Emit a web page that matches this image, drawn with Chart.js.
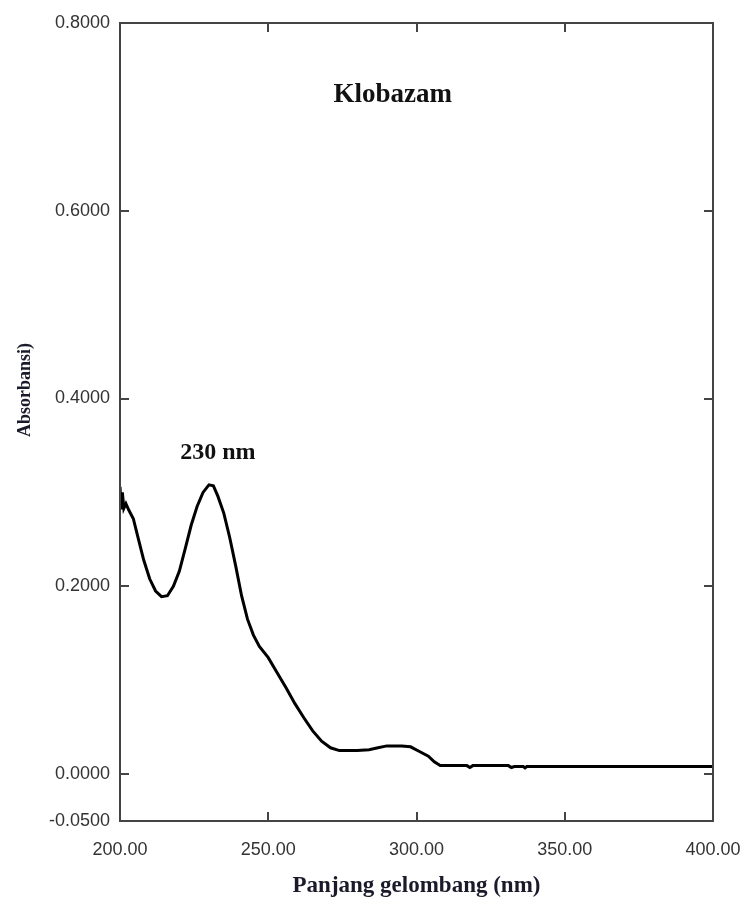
<!DOCTYPE html>
<html>
<head>
<meta charset="utf-8">
<script src="https://cdn.jsdelivr.net/npm/chart.js@4/dist/chart.umd.min.js"></script>
<style>
  html, body { margin: 0; padding: 0; background: #fff; }
  #wrap { width: 742px; height: 902px; }
</style>
</head>
<body>
<div id="wrap"><canvas id="spektrum" width="742" height="902"></canvas></div>
<script>
// spektrum UV klobazam
const panjangGelombang = [
  200.0, 200.4, 200.8, 201.3, 202.0, 203.0, 204.5, 206.0, 208.0, 210.0,
  212.0, 214.0, 216.0, 218.0, 220.0, 222.0, 224.0, 226.0, 228.0, 230.0,
  231.5, 233.0, 235.0, 237.0, 239.0, 241.0, 243.0, 245.0, 247.0, 250.0,
  253.0, 256.0, 259.0, 262.0, 265.0, 268.0, 271.0, 274.0, 280.0, 284.0,
  287.0, 290.0, 295.0, 298.0, 301.0, 304.0, 306.0, 308.0, 317.0, 318.0,
  319.0, 331.0, 332.0, 333.0, 336.0, 336.6, 337.2, 340.0, 400.0
];
const absorbansi = [
  0.306, 0.282, 0.300, 0.283, 0.288, 0.281, 0.272, 0.253, 0.228, 0.208,
  0.195, 0.189, 0.190, 0.200, 0.216, 0.240, 0.265, 0.285, 0.300, 0.308,
  0.307, 0.296, 0.278, 0.252, 0.222, 0.190, 0.165, 0.148, 0.136, 0.124,
  0.108, 0.092, 0.075, 0.060, 0.046, 0.035, 0.028, 0.025, 0.025, 0.026,
  0.028, 0.030, 0.030, 0.029, 0.024, 0.019, 0.013, 0.009, 0.009, 0.007,
  0.009, 0.009, 0.007, 0.008, 0.008, 0.0065, 0.008, 0.008, 0.008
];
const xTicks = [200, 250, 300, 350, 400];
const yTicks = [-0.05, 0, 0.2, 0.4, 0.6, 0.8];

const points = panjangGelombang.map((x, i) => ({ x: x, y: absorbansi[i] }));

// bingkai + tick ke dalam + teks anotasi
const framePlugin = {
  id: "frame",
  afterDatasetsDraw(chart) {
    const { ctx, chartArea: a, scales } = chart;
    ctx.save();
    ctx.strokeStyle = "#444";
    ctx.lineWidth = 2;
    ctx.strokeRect(a.left, a.top, a.right - a.left, a.bottom - a.top);
    ctx.beginPath();
    xTicks.slice(1, -1).forEach((v) => {
      const px = Math.round(scales.x.getPixelForValue(v));
      ctx.moveTo(px, a.bottom);
      ctx.lineTo(px, a.bottom - 9);
      ctx.moveTo(px, a.top);
      ctx.lineTo(px, a.top + 9);
    });
    yTicks.slice(1, -1).forEach((v) => {
      const py = Math.round(scales.y.getPixelForValue(v));
      ctx.moveTo(a.left, py);
      ctx.lineTo(a.left + 9, py);
      ctx.moveTo(a.right, py);
      ctx.lineTo(a.right - 9, py);
    });
    ctx.stroke();

    ctx.fillStyle = "#111";
    ctx.textAlign = "center";
    ctx.textBaseline = "middle";
    ctx.font = "bold 27px 'Liberation Serif'";
    ctx.fillText("Klobazam", scales.x.getPixelForValue(292), scales.y.getPixelForValue(0.723));
    ctx.font = "bold 24px 'Liberation Serif'";
    ctx.fillText("230 nm", scales.x.getPixelForValue(233), scales.y.getPixelForValue(0.342));

    ctx.translate(25, 390);
    ctx.rotate(-Math.PI / 2);
    ctx.font = "bold 18px 'Liberation Serif'";
    ctx.fillStyle = "#1a1a2a";
    ctx.fillText("Absorbansi)", 0, 0);
    ctx.restore();
  },
};

new Chart(document.getElementById("spektrum"), {
  type: "scatter",
  data: {
    datasets: [
      {
        data: points,
        showLine: true,
        borderColor: "#000",
        borderWidth: 3,
        pointRadius: 0,
        tension: 0,
      },
    ],
  },
  options: {
    responsive: false,
    animation: false,
    layout: { padding: { top: 23, right: 29, left: 0, bottom: 0 } },
    plugins: { legend: { display: false }, tooltip: { enabled: false } },
    scales: {
      x: {
        type: "linear",
        min: 200,
        max: 400,
        afterBuildTicks: (s) => { s.ticks = xTicks.map((v) => ({ value: v })); },
        afterFit: (s) => { s.height = 81; s.paddingLeft = 0; s.paddingRight = 0; },
        grid: { display: false, drawTicks: false },
        border: { display: false },
        ticks: {
          padding: 18,
          color: "#333",
          font: { family: "'Liberation Sans'", size: 18 },
          maxRotation: 0,
          callback: (v) => Number(v).toFixed(2),
        },
        title: {
          display: true,
          text: "Panjang gelombang (nm)",
          color: "#1a1a2a",
          font: { family: "'Liberation Serif'", size: 23, weight: "bold" },
          padding: { top: 0, bottom: 2 },
        },
      },
      y: {
        min: -0.05,
        max: 0.8,
        afterBuildTicks: (s) => { s.ticks = yTicks.map((v) => ({ value: v })); },
        afterFit: (s) => { s.width = 120; s.paddingTop = 0; s.paddingBottom = 0; },
        grid: { display: false, drawTicks: false },
        border: { display: false },
        ticks: {
          padding: 10,
          color: "#333",
          font: { family: "'Liberation Sans'", size: 18 },
          callback: (v) => Number(v).toFixed(4),
        },
      },
    },
  },
  plugins: [framePlugin],
});
</script>
</body>
</html>
